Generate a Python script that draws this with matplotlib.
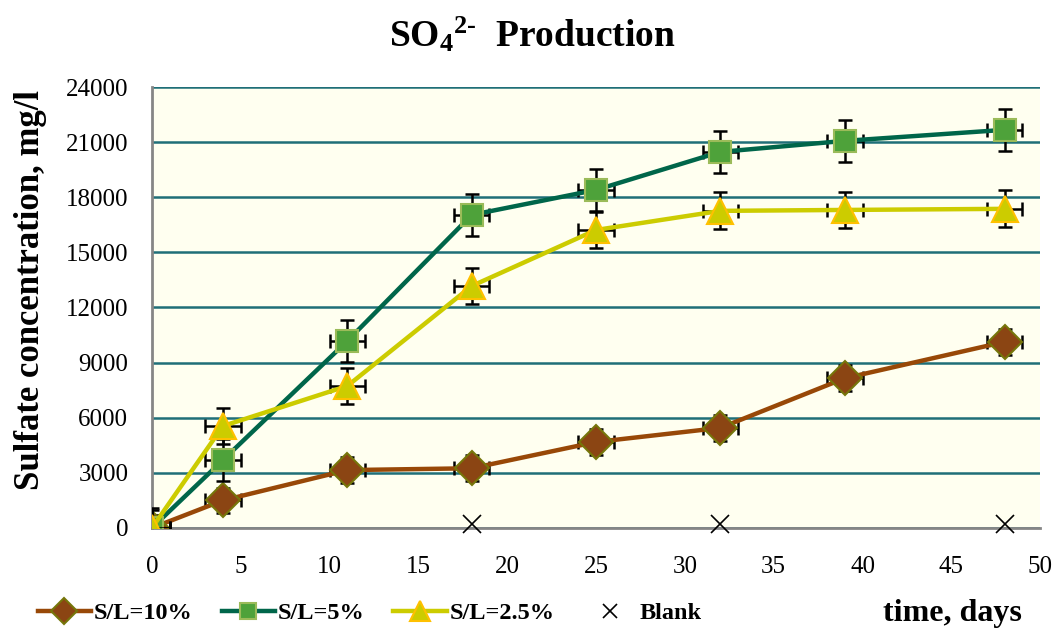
import matplotlib
matplotlib.use("Agg")
import matplotlib.pyplot as plt

plt.rcParams['font.family'] = ['Liberation Serif', 'DejaVu Serif']
plt.rcParams['mathtext.fontset'] = 'custom'
plt.rcParams['mathtext.rm'] = 'Liberation Serif:bold'
plt.rcParams['mathtext.bf'] = 'Liberation Serif:bold'
plt.rcParams['mathtext.it'] = 'Liberation Serif:bold'

days = [0, 4, 11, 18, 25, 32, 39, 48]
sl10 = [0, 1500, 3150, 3250, 4680, 5450, 8150, 10130]
sl5 = [0, 3700, 10180, 17040, 18400, 20470, 21070, 21670]
sl25 = [0, 5550, 7730, 13170, 16220, 17260, 17310, 17370]
err10 = [700, 700, 700, 700, 700, 700, 700, 700]
err5 = [1100, 1150, 1150, 1150, 1150, 1150, 1150, 1150]
err25 = [1000, 1000, 1000, 1000, 1000, 1000, 1000, 1000]
xerr_days = 1
blank_days = [18, 32, 48]
blank_vals = [200, 200, 200]
series_names = ['S/L=10%', 'S/L=5%', 'S/L=2.5%', 'Blank']
yticks = [0, 3000, 6000, 9000, 12000, 15000, 18000, 21000, 24000]
xticks = [0, 5, 10, 15, 20, 25, 30, 35, 40, 45, 50]

fig = plt.figure(figsize=(10.55, 6.32), dpi=100)
ax = fig.add_axes([0.144, 0.1646, 0.842, 0.6977])
ax.set_facecolor('#FFFFF0')

styles = [
    (sl10, err10, '#984807', 'D', '#8B4513', '#76760A', 17),
    (sl5, err5, '#00664A', 's', '#4EA23A', '#9BBB59', 16),
    (sl25, err25, '#CCCC00', '^', '#CCCC00', '#FFC000', 19),
]
handles = []
for i, (vals, err, lc, mk, mfc, mec, ms) in enumerate(styles):
    ax.errorbar(days, vals, yerr=err, xerr=xerr_days, fmt='none', ecolor='black',
                elinewidth=1.8, capsize=5, capthick=1.8, zorder=3 + i * 2)
    h, = ax.plot(days, vals, color=lc, lw=3.2, marker=mk, ms=ms, mfc=mfc, mec=mec,
                 mew=1.5, zorder=4 + i * 2, label=series_names[i])
    handles.append(h)
hb, = ax.plot(blank_days, blank_vals, ls='none', marker='x', ms=13, mec='black',
              mew=1.2, zorder=10, label=series_names[3], clip_on=False)
handles.append(hb)

ax.set_xlim(0, 50)
ax.set_ylim(0, 24000)
ax.set_xticks(xticks)
ax.set_yticks(yticks)
ax.tick_params(length=0, labelsize=18)
ax.tick_params(axis='y', pad=17)
ax.tick_params(axis='x', pad=20)
ax.yaxis.grid(True, color='#1F6F78', lw=1.8)
ax.set_axisbelow(True)
for s in ['top', 'right']:
    ax.spines[s].set_visible(False)
for s in ['left', 'bottom']:
    ax.spines[s].set_color('#868686')
    ax.spines[s].set_linewidth(2)
    ax.spines[s].set_zorder(2)

ax.set_ylabel('Sulfate concentration, mg/l', fontsize=25, fontweight='bold')
ax.yaxis.set_label_coords(-0.118, 0.54)
fig.text(0.969, 0.03, 'time, days', fontsize=23, fontweight='bold', ha='right', va='center')
fig.text(0.505, 0.945, r'SO$_{4}$$^{2\text{-}}$  Production', fontsize=27,
         fontweight='bold', ha='center', va='center')

leg = fig.legend(handles=handles, loc='center left', bbox_to_anchor=(0.015, 0.03),
                 ncol=4, frameon=False, prop={'weight': 'bold', 'size': 17.5},
                 handlelength=2.2, columnspacing=1.2, handletextpad=0.1, markerscale=0.75)

fig.savefig('out.png', dpi=100)
